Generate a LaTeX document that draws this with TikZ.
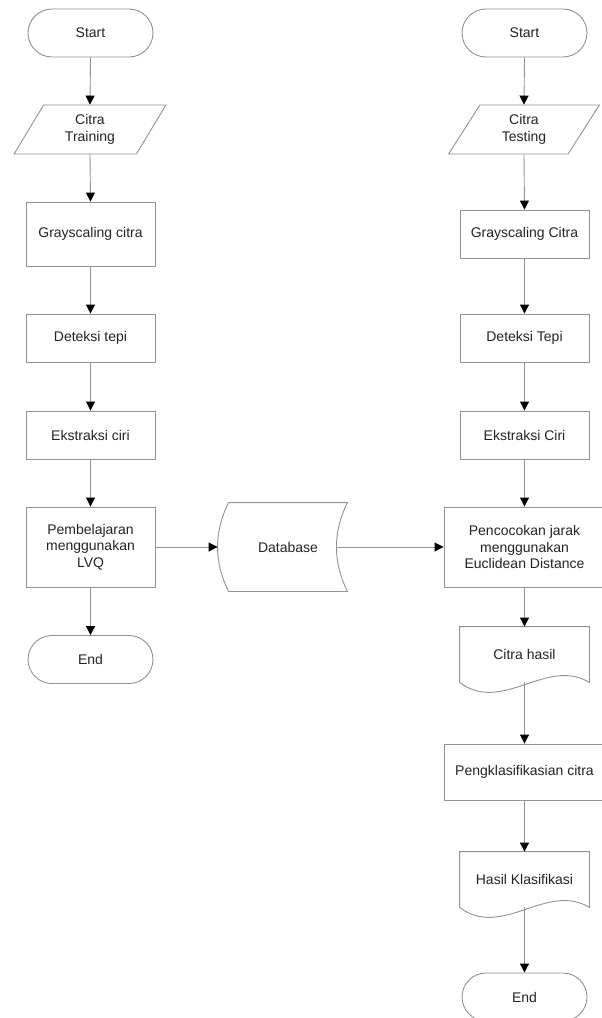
\documentclass[tikz,border=0pt]{standalone}
\usepackage{fontspec}
\setmainfont{Liberation Sans}
\usetikzlibrary{arrows.meta,positioning,shapes.geometric,shapes.misc}
\definecolor{edge}{RGB}{145,145,145}
\definecolor{ink}{RGB}{35,35,35}
\tikzset{
  base/.style={draw=edge,line width=0.9pt,text=ink,align=center,inner sep=2pt,
    font=\fontsize{14}{16.7}\selectfont},
  terminal/.style={base,rounded rectangle,minimum width=129pt,minimum height=48pt},
  io/.style={base,trapezium,trapezium left angle=63,trapezium right angle=117,
    trapezium stretches=true,minimum width=152pt,minimum height=49pt},
  proc/.style={base,rectangle},
  doc/.style={base,draw=none,rectangle,minimum width=129pt,minimum height=55pt},
  store/.style={base,draw=none,rectangle,minimum width=118pt,minimum height=88pt},
  outline/.style={draw=edge,line width=0.9pt},
  flow/.style={draw=edge,line width=0.9pt,-{Triangle[length=9pt,width=9pt,color=black]}}
}

\begin{document}
\begin{tikzpicture}[x=1pt,y=-1pt]
  \useasboundingbox (0,0) rectangle (602,1018);

  \node[terminal] (sL) at (90.5,33) {Start};
  \node[io] (trn) at (90,129.5) {Citra\\Training};
  \node[terminal] (endL) at (90.5,659.5) {End};

  \node[terminal] (sR) at (524.5,33) {Start};
  \node[io] (tst) at (524,129.5) {Citra\\Testing};
  \node[terminal] (endR) at (524.5,997) {End};

  \foreach \n/\x/\y/\w/\h/\t in {
    grL/90.5/234/129/64/Grayscaling citra,
    detL/90.5/338/129/48/Deteksi tepi,
    eksL/90.5/435/129/48/Ekstraksi ciri,
    lvq/90.5/547/129/80/Pembelajaran\\menggunakan\\LVQ,
    grR/524.5/234/129/48/Grayscaling Citra,
    detR/524.5/338/129/48/Deteksi Tepi,
    eksR/524.5/435/129/48/Ekstraksi Ciri,
    euc/524.5/547/161/80/Pencocokan jarak\\menggunakan\\Euclidean Distance,
    klas/524.5/772/161/56/Pengklasifikasian citra}
  {
    \node[proc,minimum width=\w pt,minimum height=\h pt] (\n) at (\x,\y) {\t};
  }

  \node[doc] (hasil) at (524.5,654.5) {Citra hasil};
  \node[doc] (hk) at (524.5,879.5) {Hasil Klasifikasi};
  \foreach \d in {hasil,hk}
    \draw[outline] (\d.south west) -- (\d.north west) -- (\d.north east) -- (\d.south east)
      .. controls ([xshift=-43pt,yshift=26pt]\d.south east) and ([xshift=43pt,yshift=-32pt]\d.south west) .. (\d.south west);

  \node[store] (db) at (288,547) {Database};
  \draw[outline] (db.north west) -- (db.north east)
    .. controls ([xshift=-14.7pt,yshift=14.7pt]db.east) and ([xshift=-14.7pt,yshift=-14.7pt]db.east) .. (db.south east)
    -- (db.south west)
    .. controls ([xshift=-14.7pt,yshift=-14.7pt]db.west) and ([xshift=-14.7pt,yshift=14.7pt]db.west) .. (db.north west);
  \coordinate (dbin) at ([xshift=-11pt]db.west);
  \coordinate (dbout) at ([xshift=-11pt]db.east);

  \foreach \a/\b in {sL/trn,trn/grL,grL/detL,detL/eksL,eksL/lvq,lvq/endL,
    sR/tst,tst/grR,grR/detR,detR/eksR,eksR/euc,euc/hasil,hasil/klas,klas/hk,hk/endR}
    \draw[flow] (\a.south) -- (\b.north);

  \draw[flow] (lvq.east) -- (dbin);
  \draw[flow] (dbout) -- (euc.west);
\end{tikzpicture}
\end{document}
